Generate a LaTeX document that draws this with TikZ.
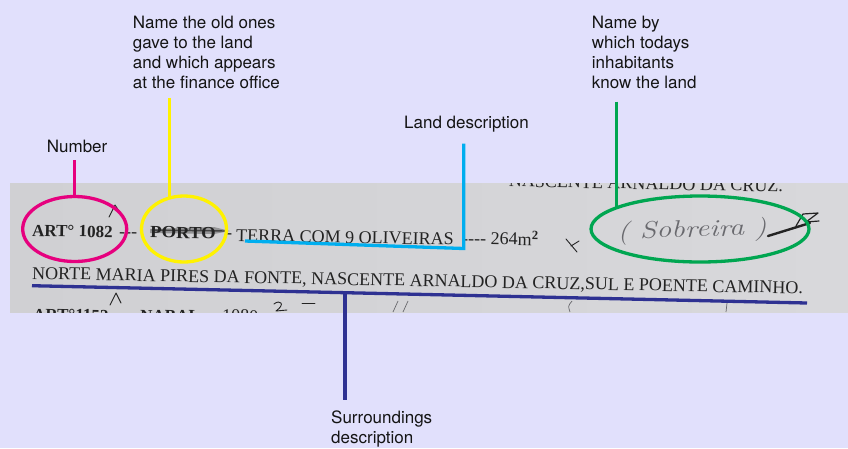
\documentclass[tikz,border=0pt]{standalone}
\usepackage{fontspec}
\usetikzlibrary{calc, shapes.geometric}
\newfontfamily\tagfont{TeX Gyre Heros}
\newfontfamily\scanfont{Liberation Serif}

\definecolor{lavender}{RGB}{225,224,252}
\definecolor{tagtext}{RGB}{20,20,20}
\definecolor{paperL}{RGB}{208,208,211}
\definecolor{paperM}{RGB}{225,225,227}
\definecolor{paperR}{RGB}{216,216,219}
\definecolor{ink}{RGB}{35,35,35}
\definecolor{pencil}{RGB}{105,105,110}
\definecolor{pinkmark}{RGB}{230,0,126}
\definecolor{yellowmark}{RGB}{255,242,0}
\definecolor{cyanmark}{RGB}{0,174,239}
\definecolor{greenmark}{RGB}{0,166,81}
\definecolor{navymark}{RGB}{46,49,146}

\tikzset{
  tag/.style={font=\tagfont\fontsize{17}{20}\selectfont, text=tagtext, align=left, inner sep=0pt, anchor=north west},
  ring/.style={ellipse, draw, line width=3.3pt, inner sep=0pt, outer sep=0pt},
  lead/.style={line width=3.3pt},
  typed/.style={font=\scanfont\fontsize{18}{20}\selectfont, text=ink, inner sep=0pt, anchor=base west, rotate=-1.1},
  typedbold/.style={typed, font=\scanfont\bfseries\fontsize{17}{20}\selectfont},
  pen/.style={draw=ink, line width=0.9pt, line cap=round, line join=round},
}

\begin{document}
\begin{tikzpicture}[x=1pt, y=-1pt]
\fill[lavender, use as bounding box] (0,0) rectangle (848,448);

% the scanned strip of the register
\begin{scope}
\clip (10,183) rectangle (848,312.7);
\shade[left color=paperL, middle color=paperM, right color=paperR] (10,183) rectangle (848,312.7);
\node[typed, anchor=base east] (prevrow) at (783,192) {NASCENTE ARNALDO DA CRUZ.};
\node[typedbold] (artno) at (32,236) {ART° 1082};
\node[typed] (dashA) at (119,237) {-{}-{}-};
\node[typedbold, xscale=1.1] (porto) at (150,237.5) {PORTO};
\node[typed] (dashB) at (226,238.5) {-};
\node[typed] (terra) at (236,241) {TERRA COM 9 OLIVEIRAS};
\node[typed] (area) at (462,244) {-{}-{}-{}- 264m\textsuperscript{\bfseries 2}};
\node[typed] (bounds) at (32,279) {NORTE MARIA PIRES DA FONTE, NASCENTE ARNALDO DA CRUZ,SUL E POENTE CAMINHO.};
\node[typedbold] (nextart) at (33,320) {ART°1152};
\node[typedbold] (nextname) at (140,321) {NABAL};
\node[typed] (nextyear) at (222,321.5) {1080};
% pen and pencil marks
\fill[ink, opacity=0.35] (150,229) -- (214,227) -- (230,231) -- (214,234) -- (150,233) -- cycle;
\draw[pen, line width=1.4pt, opacity=0.7] (152,230) -- (226,231);
\draw[pen] (109,217) -- (115,205) -- (121,214);
\draw[pen] (110,305) -- (116,293) -- (121,303);
\draw[pen] (566,239) -- (577,252) (571,246) -- (579,241);
\node[font=\itshape\fontsize{24}{24}\selectfont, text=pencil, xscale=1.25, rotate=2] (pencilname) at (692,231) {( Sobreira )};
\draw[pen, line width=2.4pt] (768,236) -- (810,223);
\draw[pen, line width=1.2pt] (796,226) -- (803,214) -- (818,213) -- (806,222) -- (819,221);
\draw[pen] (274,304) .. controls (280,299) and (286,304) .. (276,311) -- (287,310);
\draw[pen] (302,303) -- (315,303);
\draw[pencil, line width=0.7pt] (393,312) -- (398,301) (403,312) -- (408,301)
  (570,312) .. controls (568,306) .. (572,301) (726,312) -- (727,303);
\end{scope}

% circled entries
\node[ring, draw=pinkmark, minimum width=104pt, minimum height=65pt] (numring) at (74.7,229) {};
\node[ring, draw=yellowmark, minimum width=85pt, minimum height=66pt] (oldring) at (184,229) {};
\node[ring, draw=greenmark, minimum width=218pt, minimum height=66pt] (nowring) at (700,229) {};

% labels
\node[tag] (numlabel) at (46.7,140) {Number};
\node[tag] (oldlabel) at (132.7,16) {Name the old ones\\gave to the land\\and which appears\\at the finance office};
\node[tag] (landlabel) at (404,116) {Land description};
\node[tag] (nowlabel) at (591.7,16) {Name by\\which todays\\inhabitants\\know the land};
\node[tag] (surrlabel) at (331,411) {Surroundings\\description};

% leader lines
\coordinate (numtop) at (74.7,160);
\coordinate (oldtop) at (169.3,97.7);
\coordinate (landw) at (245,241);
\coordinate (landcorner) at (463.7,248.5);
\coordinate (landtop) at (463.7,143.7);
\coordinate (nowtop) at (616.7,101.7);
\coordinate (surrw) at (32,285.7);
\coordinate (surre) at (807,303);
\coordinate (surrtap) at ($(surrw)!0.4039!(surre)$);
\coordinate (surrfoot) at (345,400);

\draw[lead, pinkmark] (numtop) -- (numring.north);
\draw[lead, yellowmark] (oldtop) -- (oldtop |- oldring.116);
\draw[lead, cyanmark] (landw) -- (landcorner) -- (landtop);
\draw[lead, greenmark] (nowtop) -- (nowtop |- nowring.165.5);
\draw[lead, navymark] (surrw) -- (surre);
\draw[lead, navymark] (surrtap) -- (surrtap |- surrfoot);
\end{tikzpicture}
\end{document}
